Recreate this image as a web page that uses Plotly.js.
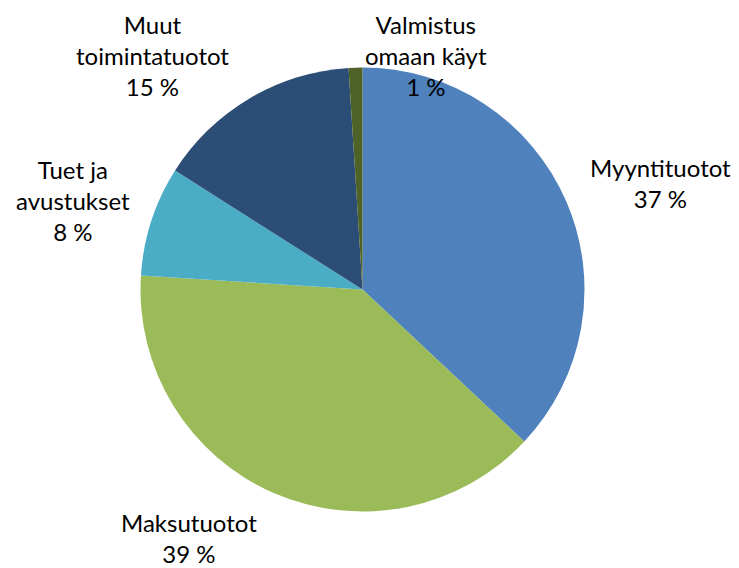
<!DOCTYPE html>
<html><head><meta charset="utf-8">
<script src="https://cdn.plot.ly/plotly-3.0.1.min.js"></script>
<style>html,body{margin:0;padding:0;background:#fff;}</style>
</head><body>
<div id="chart" style="width:739px;height:568px;"></div>
<script>
const categories = ["Myyntituotot", "Maksutuotot", "Tuet ja avustukset", "Muut toimintatuotot", "Valmistus omaan käyt"];
const labelLines = ["Myyntituotot", "Maksutuotot", "Tuet ja<br>avustukset", "Muut<br>toimintatuotot", "Valmistus<br>omaan käyt"];
const values = [37, 39, 8, 15, 1];
const colors = ["#4F81BD", "#9BBB59", "#4BACC6", "#2C4D75", "#4F6228"];

// label positions (paper px centers) – layout only
const labelPos = [[660, 183], [189, 538], [73, 200], [152, 56], [426, 56]];

const W = 739, H = 568;
const fontFam = "Lato, 'Open Sans', sans-serif";
const annotations = categories.map((c, i) => ({
  text: labelLines[i] + "<br>" + values[i] + " %",
  xref: "paper", yref: "paper",
  x: labelPos[i][0] / W, y: 1 - labelPos[i][1] / H,
  xanchor: "center", yanchor: "middle",
  showarrow: false, align: "center",
  font: {family: fontFam, size: 24, color: "#000"}
}));

const cx = 362.5, cy = 289.5, r = 222;
const trace = {
  type: "pie",
  labels: categories,
  values: values,
  sort: false,
  direction: "clockwise",
  rotation: 0,
  textinfo: "none",
  hoverinfo: "none",
  marker: {colors: colors, line: {width: 0}},
  domain: {x: [(cx - r) / W, (cx + r) / W], y: [1 - (cy + r) / H, 1 - (cy - r) / H]}
};

Plotly.newPlot("chart", [trace], {
  width: W, height: H,
  margin: {l: 0, r: 0, t: 0, b: 0},
  showlegend: false,
  paper_bgcolor: "#fff",
  annotations: annotations
}, {staticPlot: true});
</script>
</body></html>
